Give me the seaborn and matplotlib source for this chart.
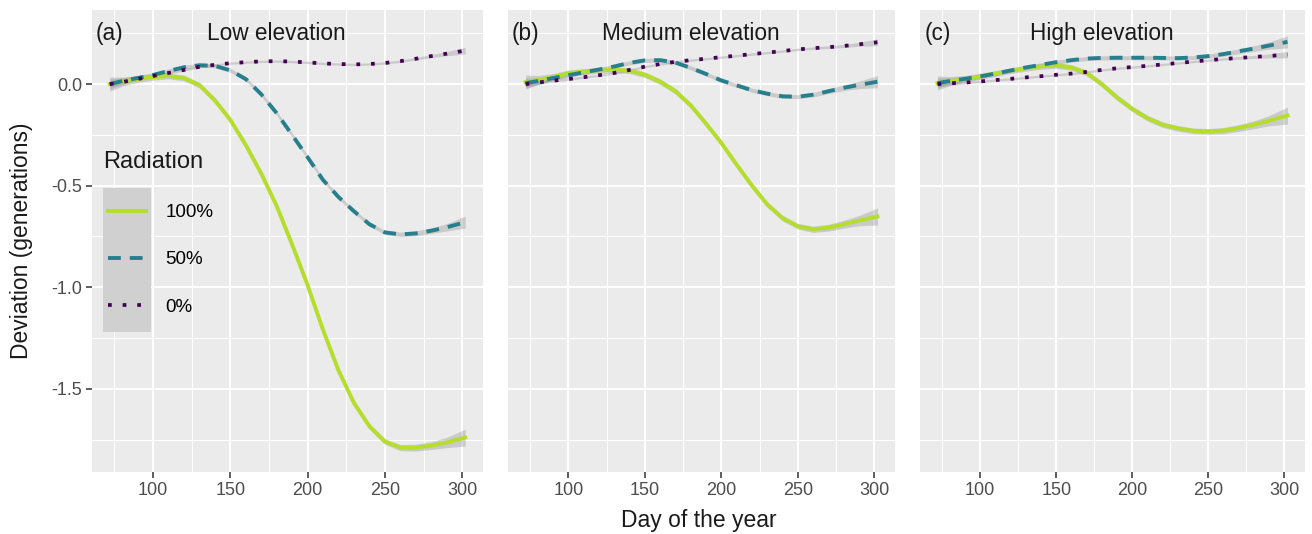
import matplotlib
matplotlib.use("Agg")
import numpy as np
import pandas as pd
import matplotlib.pyplot as plt
import seaborn as sns
from matplotlib.ticker import MultipleLocator, FormatStrFormatter
from matplotlib.lines import Line2D
from matplotlib.patches import Rectangle

# ---------------- data ----------------
days = [72, 80, 90, 100, 110, 120, 130, 140, 150, 160, 170, 180,
        190, 200, 210, 220, 230, 240, 250, 260, 270, 280, 290, 302]

low_100 = [0.0, 0.012, 0.025, 0.035, 0.04, 0.03, -0.005, -0.08, -0.176, -0.30, -0.44, -0.60,
           -0.79, -0.99, -1.21, -1.41, -1.57, -1.685, -1.76, -1.79, -1.79, -1.78, -1.765, -1.74]
low_50 = [0.0, 0.015, 0.03, 0.045, 0.065, 0.083, 0.093, 0.09, 0.068, 0.025, -0.05, -0.143,
          -0.25, -0.36, -0.472, -0.556, -0.626, -0.69, -0.73, -0.74, -0.735, -0.722, -0.705, -0.68]
low_0 = [0.0, 0.01, 0.025, 0.04, 0.055, 0.07, 0.085, 0.095, 0.103, 0.108, 0.112, 0.113,
         0.111, 0.107, 0.102, 0.099, 0.097, 0.099, 0.104, 0.113, 0.125, 0.138, 0.15, 0.165]

med_100 = [0.01, 0.02, 0.035, 0.054, 0.062, 0.068, 0.07, 0.066, 0.046, 0.012, -0.035, -0.105,
           -0.195, -0.29, -0.397, -0.50, -0.593, -0.66, -0.70, -0.715, -0.707, -0.69, -0.672, -0.652]
med_50 = [0.005, 0.015, 0.03, 0.044, 0.058, 0.072, 0.087, 0.105, 0.117, 0.118, 0.106, 0.08,
          0.05, 0.018, -0.006, -0.03, -0.047, -0.06, -0.062, -0.052, -0.035, -0.018, -0.004, 0.012]
med_0 = [0.0, 0.008, 0.017, 0.025, 0.034, 0.044, 0.055, 0.07, 0.086, 0.099, 0.11, 0.118,
         0.125, 0.133, 0.14, 0.148, 0.155, 0.163, 0.171, 0.177, 0.182, 0.188, 0.196, 0.206]

high_100 = [0.005, 0.015, 0.026, 0.038, 0.052, 0.066, 0.078, 0.087, 0.092, 0.082, 0.055, 0.0,
            -0.066, -0.122, -0.168, -0.2, -0.218, -0.23, -0.233, -0.229, -0.216, -0.2, -0.18, -0.155]
high_50 = [0.005, 0.015, 0.026, 0.038, 0.052, 0.067, 0.082, 0.095, 0.108, 0.118, 0.126, 0.129,
           0.13, 0.13, 0.13, 0.129, 0.128, 0.131, 0.138, 0.148, 0.162, 0.175, 0.19, 0.208]
high_0 = [0.0, 0.004, 0.008, 0.013, 0.02, 0.026, 0.033, 0.039, 0.046, 0.052, 0.06, 0.07,
          0.078, 0.084, 0.09, 0.097, 0.104, 0.111, 0.118, 0.124, 0.129, 0.134, 0.139, 0.145]

# half-width of the grey confidence ribbon, and its relative size per radiation level
band_halfwidth = [0.025, 0.016, 0.012, 0.011, 0.01, 0.01, 0.01, 0.01, 0.01, 0.01, 0.01, 0.01,
                  0.01, 0.01, 0.01, 0.01, 0.01, 0.01, 0.01, 0.011, 0.012, 0.014, 0.018, 0.03]
band_scale = {"100%": 1.4, "50%": 1.0, "0%": 0.55}

radiation_levels = ["100%", "50%", "0%"]
panel_tags = ["(a)", "(b)", "(c)"]
panel_titles = ["Low elevation", "Medium elevation", "High elevation"]
panel_series = [
    {"100%": low_100, "50%": low_50, "0%": low_0},
    {"100%": med_100, "50%": med_50, "0%": med_0},
    {"100%": high_100, "50%": high_50, "0%": high_0},
]

rows = []
for title, series in zip(panel_titles, panel_series):
    for lvl in radiation_levels:
        for d, v, b in zip(days, series[lvl], band_halfwidth):
            h = b * band_scale[lvl]
            rows.append({"panel": title, "Radiation": lvl, "day": d, "dev": v,
                         "lo": v - h, "hi": v + h})
df = pd.DataFrame(rows)

# ---------------- style ----------------
plt.rcParams["font.family"] = ["Liberation Sans", "DejaVu Sans"]
plt.rcParams["axes.unicode_minus"] = False

palette = {"100%": "#B4DD2C", "50%": "#277F8E", "0%": "#440154"}
dashes = {"100%": "", "50%": (3.3, 2.3), "0%": (1, 2.9)}
widths = {"100%": 2.8, "50%": 2.8, "0%": 2.7}

fig = plt.figure(figsize=(13.12, 5.34), dpi=100)
W, H = 1312, 534
top, bottom = 10, 472
panel_px = [(92, 483), (508, 895), (920, 1305)]

axes = []
for i, (x0, x1) in enumerate(panel_px):
    ax = fig.add_axes([x0 / W, 1 - bottom / H, (x1 - x0) / W, (bottom - top) / H])
    axes.append(ax)
    sub = df[df["panel"] == panel_titles[i]]
    ax.set_facecolor("#EBEBEB")
    for s in ax.spines.values():
        s.set_visible(False)

    for lvl in radiation_levels:
        g = sub[sub["Radiation"] == lvl]
        ax.fill_between(g["day"], g["lo"], g["hi"], color="#999999", alpha=0.4,
                        lw=0, zorder=1.5)

    sns.lineplot(data=sub, x="day", y="dev", hue="Radiation", style="Radiation",
                 hue_order=radiation_levels, style_order=radiation_levels,
                 palette=palette, dashes=dashes, linewidth=2.8, legend=False,
                 ax=ax, zorder=2)
    for ln, lvl in zip(ax.get_lines(), radiation_levels):
        ln.set_dash_capstyle("butt")
        ln.set_linewidth(widths[lvl])

    ax.set_xlim(60.5, 313.5)
    ax.set_ylim(-1.91, 0.365)
    ax.xaxis.set_major_locator(MultipleLocator(50))
    ax.xaxis.set_minor_locator(MultipleLocator(25))
    ax.yaxis.set_major_locator(MultipleLocator(0.5))
    ax.yaxis.set_minor_locator(MultipleLocator(0.25))
    ax.yaxis.set_major_formatter(FormatStrFormatter("%.1f"))
    ax.grid(which="major", color="white", lw=1.4)
    ax.grid(which="minor", color="white", lw=0.75)
    ax.set_axisbelow(True)
    ax.tick_params(which="minor", length=0)
    ax.tick_params(which="major", length=4, width=1.1, color="#333333",
                   labelcolor="#4D4D4D", labelsize=13, pad=3)
    ax.set_xlabel("")
    ax.set_ylabel("")
    if i > 0:
        ax.tick_params(axis="y", left=False, labelleft=False)

    ax.text(72, 0.25, panel_tags[i], ha="center", va="center", fontsize=16.3, color="#1A1A1A")
    ax.text(180, 0.25, panel_titles[i], ha="center", va="center", fontsize=16.3, color="#1A1A1A")

# legend inside panel (a)
ax = axes[0]
handles = []
for l in radiation_levels:
    h = Line2D([], [], color=palette[l], lw=widths[l], dash_capstyle="butt")
    if dashes[l]:
        h.set_dashes(dashes[l])
    handles.append(h)
ax.add_patch(Rectangle((103 / W, 1 - 332 / H), 48 / W, 144 / H, transform=fig.transFigure,
                       color="#D0D0D0", lw=0, zorder=4, clip_on=False))
leg = ax.legend(handles, radiation_levels, loc="upper left",
                bbox_to_anchor=(108 / W, 1 - 204 / H), bbox_transform=fig.transFigure,
                frameon=False, fontsize=13.5, handlelength=2.05,
                labelspacing=1.61, borderpad=0, handletextpad=1.0, borderaxespad=0)
leg.set_zorder(5)
fig.text(103 / W, 1 - 162 / H, "Radiation", ha="left", va="center",
         fontsize=17, color="#1A1A1A")

fig.text((92 + 1305) / 2 / W, 1 - 520 / H, "Day of the year", ha="center", va="center",
         fontsize=16.5, color="#1A1A1A")
fig.text(22 / W, 1 - 241 / H, "Deviation (generations)", ha="center", va="center",
         rotation=90, fontsize=16.5, color="#1A1A1A")

fig.savefig("out.png", dpi=100, facecolor="white")
